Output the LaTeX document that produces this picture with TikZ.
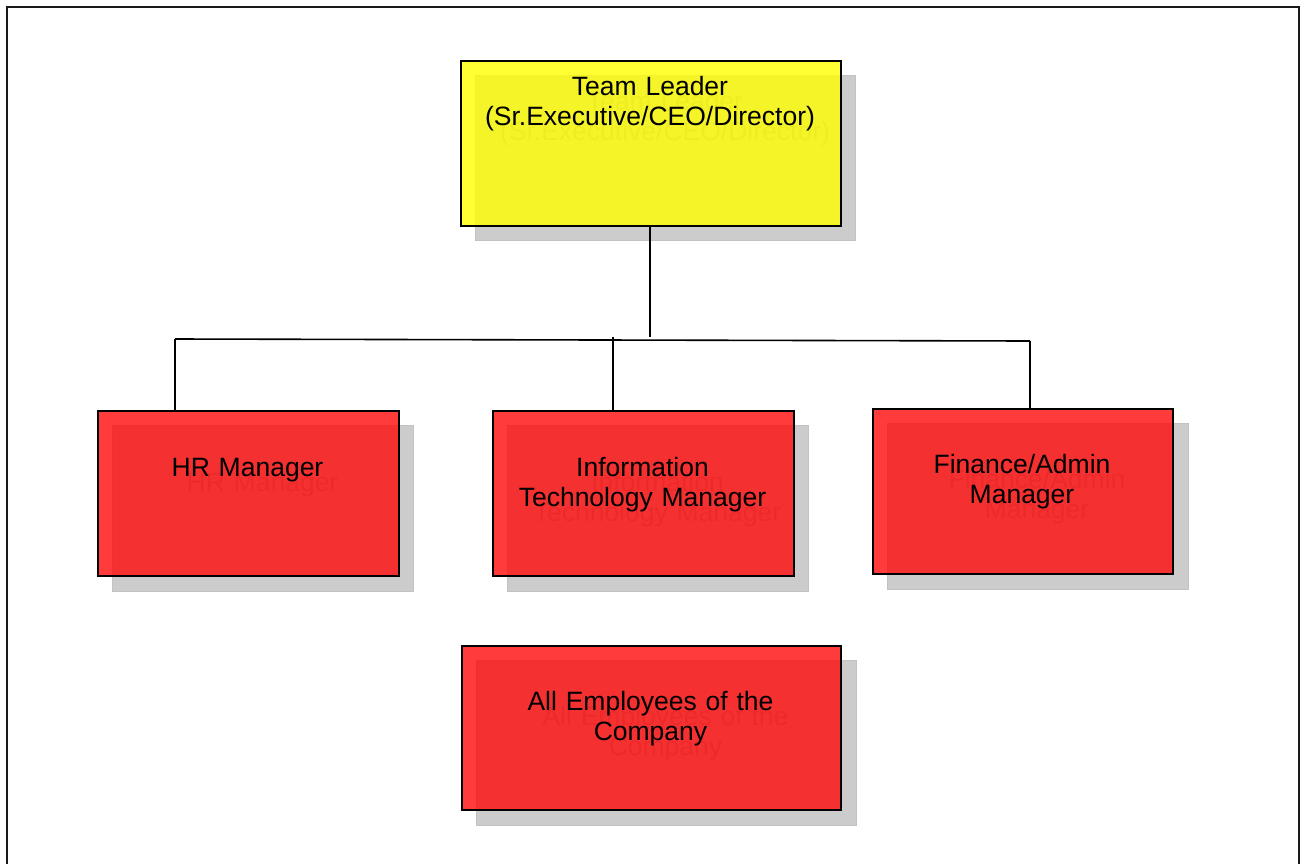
\documentclass[tikz,border=0pt]{standalone}
\usepackage{fontspec}
\setmainfont{Liberation Sans}
\definecolor{shadowgray}{HTML}{CCCCCC}
\definecolor{shadowedge}{HTML}{C2C2C2}
\definecolor{ghost}{HTML}{A8A8A8}
\definecolor{boxred}{HTML}{FF0A0A}
\definecolor{boxyellow}{HTML}{FFFF00}
\begin{document}
\begin{tikzpicture}[x=1bp,y=-1bp,
  boxbase/.style={rectangle, inner sep=0pt, anchor=north west},
  shadowbox/.style={boxbase, fill=shadowgray, draw=shadowedge, line width=1bp},
  mainbox/.style={boxbase, fill=#1, fill opacity=0.8, draw=black, draw opacity=1, line width=1.6bp},
  boxtext/.style={anchor=base, inner sep=0pt, align=center, text width=#1,
    font=\fontsize{26.5bp}{30bp}\selectfont},
  ghosttext/.style={boxtext=#1, text=ghost},
  conn/.style={draw=black, line width=1.6bp},
  frame/.style={draw=black!90, line width=2bp}]
\useasboundingbox (0,0) rectangle (1303,863);
\fill[white] (0,0) rectangle (1303,863);
\draw[frame] (7,880) -- (7,7) -- (1299,7) -- (1299,880);

% connectors
\coordinate (tlEnd) at (650,337);
\coordinate (busL) at (175,339);
\coordinate (busR) at (1030,341);
\coordinate (busM) at (613,337);

% shadows with ghost text
\node[shadowbox, minimum width=380bp, minimum height=165bp] (tlS) at (475,75) {};
\node[ghosttext=380bp] (tlST) at (665,110) {Team Leader\\(Sr.Executive/CEO/Director)};
\node[shadowbox, minimum width=301bp, minimum height=166bp] (hrS) at (112,425) {};
\node[ghosttext=300bp] (hrST) at (262.5,491) {HR Manager};
\node[shadowbox, minimum width=301bp, minimum height=166bp] (itS) at (507,425) {};
\node[ghosttext=300bp] (itST) at (657.5,491) {Information\\Technology Manager};
\node[shadowbox, minimum width=301bp, minimum height=166bp] (finS) at (887,423) {};
\node[ghosttext=300bp] (finST) at (1037,488) {Finance/Admin\\Manager};
\node[shadowbox, minimum width=380bp, minimum height=165bp] (allS) at (476,660) {};
\node[ghosttext=380bp] (allST) at (665.5,725) {All Employees of the\\Company};

% main boxes
\node[mainbox=boxyellow, minimum width=380bp, minimum height=165bp] (tl) at (460,60) {};
\node[mainbox=boxred, minimum width=301bp, minimum height=165bp] (hr) at (97,410) {};
\node[mainbox=boxred, minimum width=301bp, minimum height=165bp] (it) at (492,410) {};
\node[mainbox=boxred, minimum width=300bp, minimum height=165bp] (fin) at (872,408) {};
\node[mainbox=boxred, minimum width=379bp, minimum height=164bp] (all) at (461,645) {};

% texts
\node[boxtext=380bp] (tlT) at (650,95) {Team Leader\\(Sr.Executive/CEO/Director)};
\node[boxtext=300bp] (hrT) at (247.5,476) {HR Manager};
\node[boxtext=300bp] (itT) at (642.5,476) {Information\\Technology Manager};
\node[boxtext=300bp] (finT) at (1022,473) {Finance/Admin\\Manager};
\node[boxtext=380bp] (allT) at (650.5,710) {All Employees of the\\Company};

% connector lines
\draw[conn] (tl.south -| tlEnd) -- (tlEnd);
\draw[conn] (busL) -- (busR);
\draw[conn] (busL) -- (busL |- hr.north);
\draw[conn] (busM) -- (busM |- it.north);
\draw[conn] (busR) -- (busR |- fin.north);
\end{tikzpicture}
\end{document}
